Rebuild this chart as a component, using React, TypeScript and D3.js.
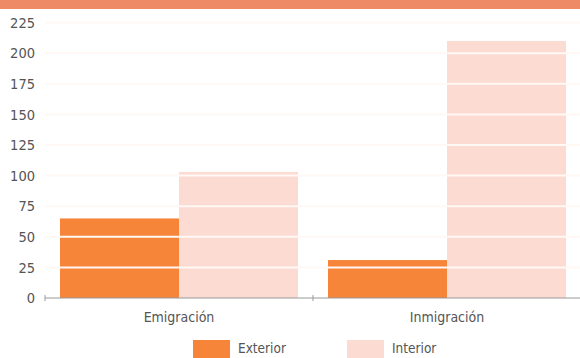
import React from "react";
import * as d3 from "d3";

const categories = ["Emigración", "Inmigración"];
const seriesNames = ["Exterior", "Interior"];
const exteriorValues = [65, 31];
const interiorValues = [103, 210];
const yTicks = [0, 25, 50, 75, 100, 125, 150, 175, 200, 225];

const W = 580;
const H = 358;
const colors = ["#F6853A", "#FCDBD3"];

export default function App() {
  const x = d3.scaleBand<string>().domain(categories).range([45, 581]).padding(0);
  const inner = d3
    .scaleBand<string>()
    .domain(seriesNames)
    .range([15, x.bandwidth() - 15])
    .padding(0);
  const y = d3.scaleLinear().domain([0, 225]).range([298, 22.6]);
  const values = [exteriorValues, interiorValues];
  const font = "'DejaVu Sans Condensed', 'Liberation Sans Narrow', sans-serif";

  return (
    <svg
      width={W}
      height={H}
      style={{ position: "absolute", left: 0, top: 0, background: "#fff" }}
      fontFamily={font}
    >
      <rect x={0} y={0} width={W} height={9} fill="#EE8A66" />
      {categories.map((c, ci) =>
        seriesNames.map((s, si) => {
          const v = values[si][ci];
          return (
            <rect
              key={c + s}
              x={(x(c) as number) + (inner(s) as number)}
              y={y(v)}
              width={inner.bandwidth()}
              height={y(0) - y(v)}
              fill={colors[si]}
            />
          );
        })
      )}
      {yTicks
        .filter((t) => t > 0)
        .map((t) => (
          <line
            key={t}
            x1={45}
            x2={581}
            y1={y(t)}
            y2={y(t)}
            stroke="#FFF8F5"
            strokeWidth={2}
          />
        ))}
      {yTicks.map((t) => (
        <text
          key={t}
          x={35}
          y={y(t)}
          dy="0.36em"
          textAnchor="end"
          fontSize={14.5}
          fill="#555"
        >
          {t}
        </text>
      ))}
      <line x1={45} x2={581} y1={y(0)} y2={y(0)} stroke="#999" strokeWidth={1} />
      {[45, ...categories.map((c) => (x(c) as number) + x.bandwidth())].map((px, i) => (
        <line key={i} x1={px} x2={px} y1={y(0) - 3} y2={y(0) + 3} stroke="#999" />
      ))}
      {categories.map((c) => (
        <text
          key={c}
          x={(x(c) as number) + x.bandwidth() / 2}
          y={322}
          textAnchor="middle"
          fontSize={14}
          fill="#555"
        >
          {c}
        </text>
      ))}
      {seriesNames.map((s, i) => {
        const lx = [193, 347][i];
        return (
          <g key={s}>
            <rect x={lx} y={340} width={37} height={20} fill={colors[i]} />
            <text x={lx + 45} y={353} fontSize={13.5} fill="#555">
              {s}
            </text>
          </g>
        );
      })}
    </svg>
  );
}
